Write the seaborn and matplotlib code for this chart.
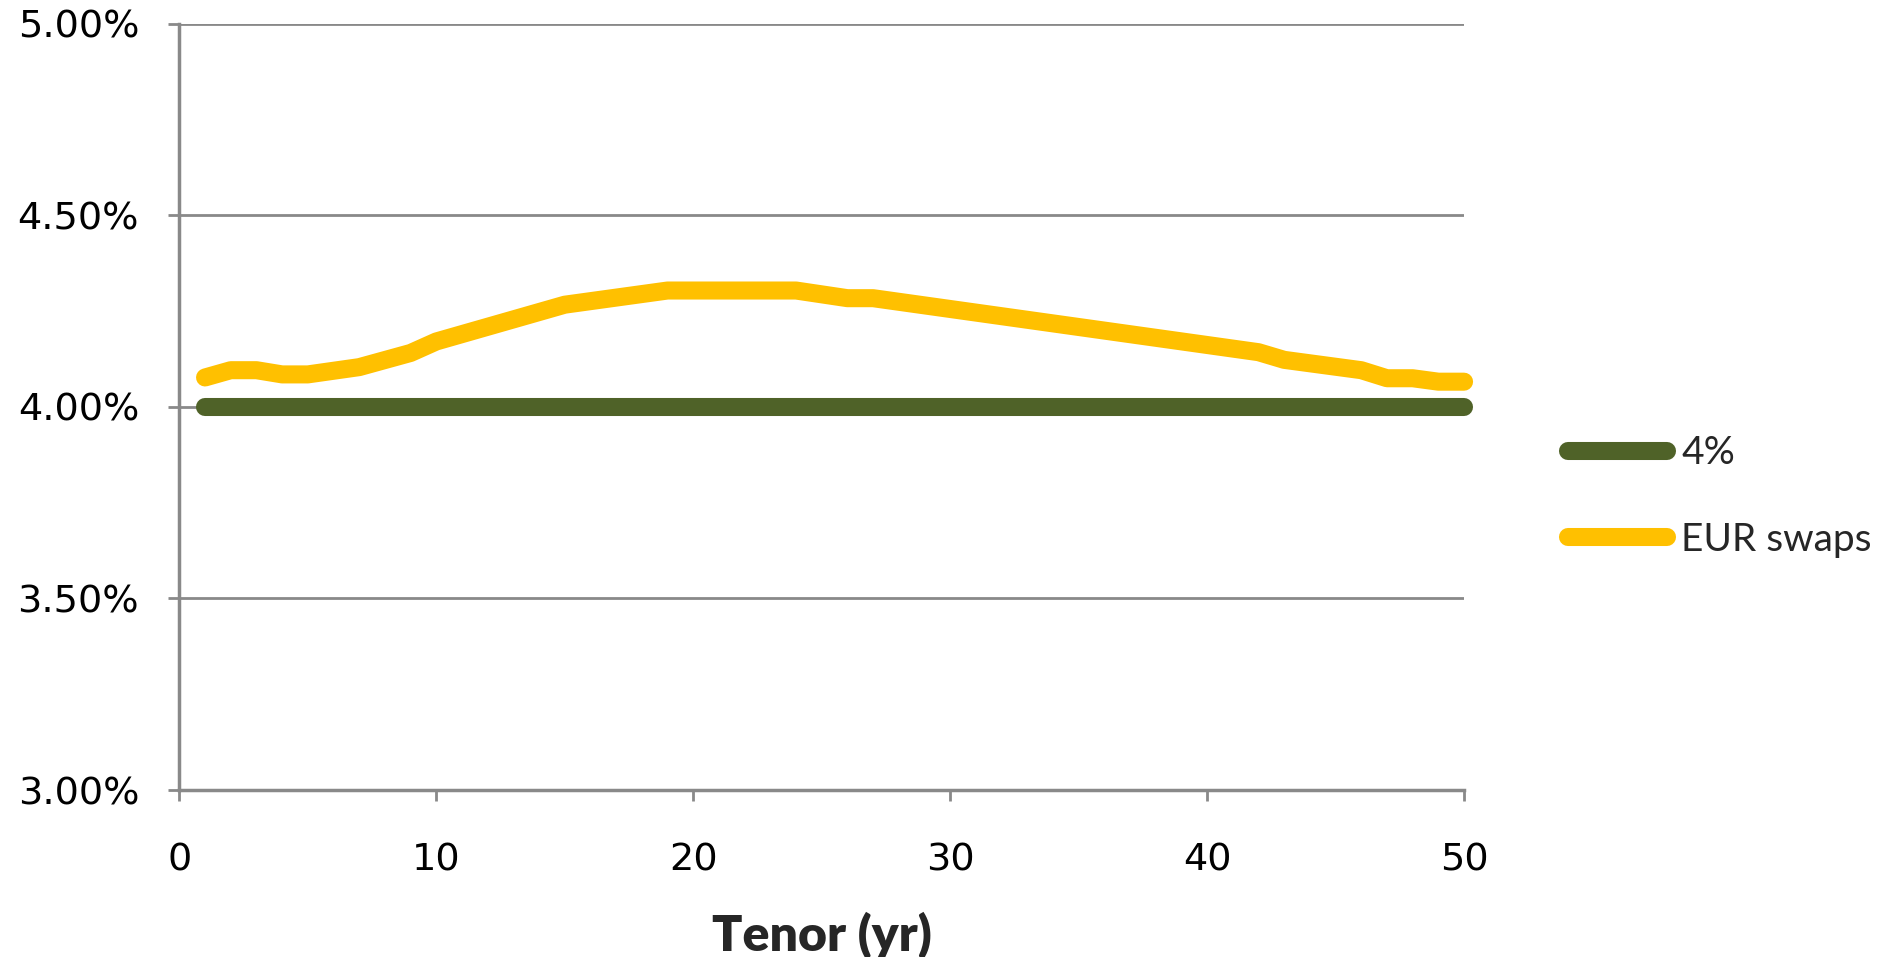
import pandas as pd
import numpy as np
import matplotlib
matplotlib.use("Agg")
import matplotlib.pyplot as plt
import seaborn as sns
from matplotlib.ticker import FuncFormatter

# data
tenor = [1, 2, 3, 4, 5, 7, 9, 10, 15, 19, 24, 26, 27, 42, 43, 46, 47, 48, 49, 50]
eur_swaps = [4.077, 4.096, 4.096, 4.085, 4.085, 4.104, 4.141, 4.171, 4.267, 4.304,
             4.304, 4.284, 4.284, 4.143, 4.123, 4.096, 4.075, 4.075, 4.066, 4.066]
flat_rate = [4.0] * len(tenor)
series_names = ["4%", "EUR swaps"]
colores = ["#4F6228", "#FFC000"]

df = pd.concat([
    pd.DataFrame({"tenor": tenor, "rate": flat_rate, "serie": series_names[0]}),
    pd.DataFrame({"tenor": tenor, "rate": eur_swaps, "serie": series_names[1]}),
])

sns.set_style("white")
plt.rcParams["font.family"] = ["DejaVu Sans"]

fig = plt.figure(figsize=(18.94, 9.57), dpi=100)
ax = fig.add_axes([0.0947, 0.1745, 0.6783, 0.8005])

sns.lineplot(data=df, x="tenor", y="rate", hue="serie", palette=colores,
             linewidth=13, solid_capstyle="round", ax=ax, legend=True)
for ln in ax.get_lines():
    ln.set_clip_on(False)

gris = "#898989"
ax.set_xlim(0, 50)
ax.set_ylim(3.0, 5.0)
ax.set_xticks(range(0, 51, 10))
ax.set_yticks([3.0, 3.5, 4.0, 4.5, 5.0])
ax.yaxis.set_major_formatter(FuncFormatter(lambda v, p: f"{v:.2f}%"))
ax.grid(axis="y", color=gris, linewidth=2)
ax.grid(axis="x", visible=False)
for s in ["top", "right"]:
    ax.spines[s].set_visible(False)
for s in ["left", "bottom"]:
    ax.spines[s].set_color(gris)
    ax.spines[s].set_linewidth(2.5)
ax.tick_params(axis="both", direction="out", length=8, width=2, color=gris,
               labelsize=27.5, labelcolor="black", left=True, bottom=True)
ax.tick_params(axis="y", pad=21)
ax.tick_params(axis="x", pad=30)

ax.set_ylabel("")
ax.set_xlabel("Tenor (yr)", fontsize=36, fontweight="heavy", family=["Lato", "DejaVu Sans"],
              labelpad=24)

handles, labels = ax.get_legend_handles_labels()
for h in handles:
    h.set_solid_capstyle("round")
    h.set_linewidth(13)
ax.legend(handles, labels, loc="center left", bbox_to_anchor=(0.828, 0.481),
          bbox_transform=fig.transFigure, frameon=False, handlelength=2.55,
          handletextpad=0.35, labelspacing=1.3, borderpad=0, borderaxespad=0,
          prop={"family": ["Lato", "DejaVu Sans"], "size": 28})

fig.savefig("out.png", dpi=100)
